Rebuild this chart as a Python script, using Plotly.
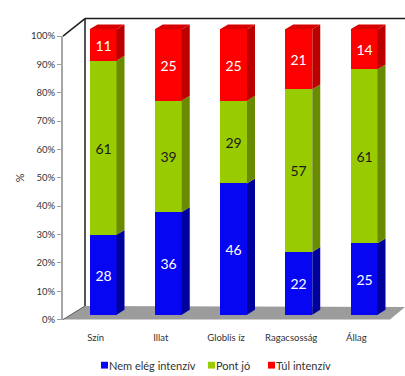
import plotly.graph_objects as go

# Értékelési kategóriák és a három válaszcsoport (%)
categories = ["Szín", "Illat", "Globlis íz", "Ragacsosság", "Állag"]
nem_eleg = [28, 36, 46, 22, 25]
pont_jo = [61, 39, 29, 57, 61]
tul = [11, 25, 25, 21, 14]
series_names = ["Nem elég intenzív", "Pont jó", "Túl intenzív"]
y_ticks = list(range(0, 101, 10))

series_values = [nem_eleg, pont_jo, tul]
front_colors = ["#0606F2", "#99CC00", "#FF0000"]
side_colors = ["#00009C", "#6A8A00", "#BC0000"]
top_color = "#D80000"
text_colors = ["white", "#1a1a1a", "white"]

W, H = 405, 376


def px(x):
    return x / W


def py(y):
    return 1 - y / H


# Bar axes (x2/y2) span the full canvas; scales chosen so bars sit on the floor
bar_step = 65.25            # pixels per category
x2_lo = -103 / bar_step
x2_hi = x2_lo + W / bar_step
y_scale = 2.94              # pixels per percent
y2_lo = -58 / y_scale
y2_hi = (H - 58) / y_scale
bar_w = 27 / bar_step
dx = 8 / bar_step           # depth offset of the 3D faces
dy = 5 / y_scale

idx = list(range(len(categories)))
font_family = "Lato, Open Sans, sans-serif"

fig = go.Figure()

# Helper trace for the visible category / percent axes
fig.add_trace(go.Scatter(x=categories, y=[None] * len(categories), xaxis="x", yaxis="y",
                         mode="markers", showlegend=False, hoverinfo="skip"))

for name, vals, fc, tc in zip(series_names, series_values, front_colors, text_colors):
    fig.add_trace(go.Bar(
        x=idx, y=vals, name=name, xaxis="x2", yaxis="y2",
        width=bar_w, marker=dict(color=fc, line=dict(width=0)),
        text=vals, textposition="inside", insidetextanchor="middle",
        constraintext="none", showlegend=False,
        textfont=dict(color=tc, size=14, family=font_family),
    ))

shapes = []

# Floor and walls of the 3D frame
shapes.append(dict(type="path", xref="paper", yref="paper", layer="below",
                   path=f"M {px(63)} {py(323)} L {px(390)} {py(323)} L {px(405)} {py(310)} "
                        f"L {px(85)} {py(309)} Z",
                   fillcolor="#9C9C9C", line=dict(width=0)))
wall_line = dict(color="#1e1e1e", width=1.5)
shapes.append(dict(type="line", xref="paper", yref="paper", layer="below",
                   x0=px(63), y0=py(31), x1=px(85), y1=py(13), line=wall_line))
shapes.append(dict(type="line", xref="paper", yref="paper", layer="below",
                   x0=px(85), y0=py(13), x1=px(405), y1=py(13), line=wall_line))
shapes.append(dict(type="line", xref="paper", yref="paper", layer="below",
                   x0=px(85), y0=py(13), x1=px(85), y1=py(309), line=wall_line))
shapes.append(dict(type="line", xref="paper", yref="paper", layer="below",
                   x0=px(63), y0=py(323), x1=px(85), y1=py(309),
                   line=dict(color="#5a5a5a", width=1)))

# Side and top faces of the stacked bars, derived from the data
for i in idx:
    base = 0
    for k, vals in enumerate(series_values):
        top = base + vals[i]
        xr = i + bar_w / 2
        shapes.append(dict(
            type="path", xref="x2", yref="y2", layer="above",
            path=f"M {xr} {base} L {xr + dx} {base + dy} L {xr + dx} {top + dy} L {xr} {top} Z",
            fillcolor=side_colors[k], line=dict(width=0)))
        base = top
    xl = i - bar_w / 2
    xr = i + bar_w / 2
    shapes.append(dict(
        type="path", xref="x2", yref="y2", layer="above",
        path=f"M {xl} {base} L {xl + dx} {base + dy} L {xr + dx} {base + dy} L {xr} {base} Z",
        fillcolor=top_color, line=dict(width=0)))

# Legend row: colour key squares with their labels
annotations = []
legend_x = [101, 208, 268]
legend_y = 370
for name, fc, lx in zip(series_names, front_colors, legend_x):
    shapes.append(dict(type="rect", xref="paper", yref="paper",
                       x0=px(lx), x1=px(lx + 7), y0=py(legend_y + 3.5), y1=py(legend_y - 3.5),
                       fillcolor=fc, line=dict(width=0)))
    annotations.append(dict(xref="paper", yref="paper", x=px(lx + 6), y=py(legend_y),
                            xanchor="left", yanchor="middle", showarrow=False, text=name,
                            font=dict(size=11, color="#333333", family=font_family)))

fig.update_layout(
    width=W, height=H,
    margin=dict(l=0, r=0, t=0, b=0),
    paper_bgcolor="white",
    plot_bgcolor="rgba(0,0,0,0)",
    barmode="stack",
    bargap=0,
    showlegend=False,
    shapes=shapes,
    annotations=annotations,
    font=dict(family=font_family, color="#333333"),
    xaxis=dict(domain=[px(63), px(389)], type="category", range=[-0.5, 4.5],
               categoryorder="array", categoryarray=categories,
               anchor="y", showline=False, showgrid=False, zeroline=False, ticks="",
               ticklabelstandoff=11,
               tickfont=dict(size=9.5, color="#333333", family=font_family),
               fixedrange=True),
    yaxis=dict(domain=[py(323), py(31)], range=[0, 100], anchor="x",
               tickvals=y_ticks, ticktext=[f"{v}%" for v in y_ticks],
               ticks="outside", ticklen=4, tickcolor="#A0A0A0", tickwidth=1,
               showline=True, linecolor="#A6A6A6", linewidth=2,
               showgrid=False, zeroline=False,
               tickfont=dict(size=9.5, color="#333333", family=font_family),
               title=dict(text="%", standoff=4,
                          font=dict(size=11, color="#333333", family=font_family)),
               fixedrange=True),
    xaxis2=dict(domain=[0, 1], range=[x2_lo, x2_hi], anchor="y2",
                visible=False, fixedrange=True),
    yaxis2=dict(domain=[0, 1], range=[y2_lo, y2_hi], anchor="x2",
                visible=False, fixedrange=True),
)

fig.write_html("out.html")
